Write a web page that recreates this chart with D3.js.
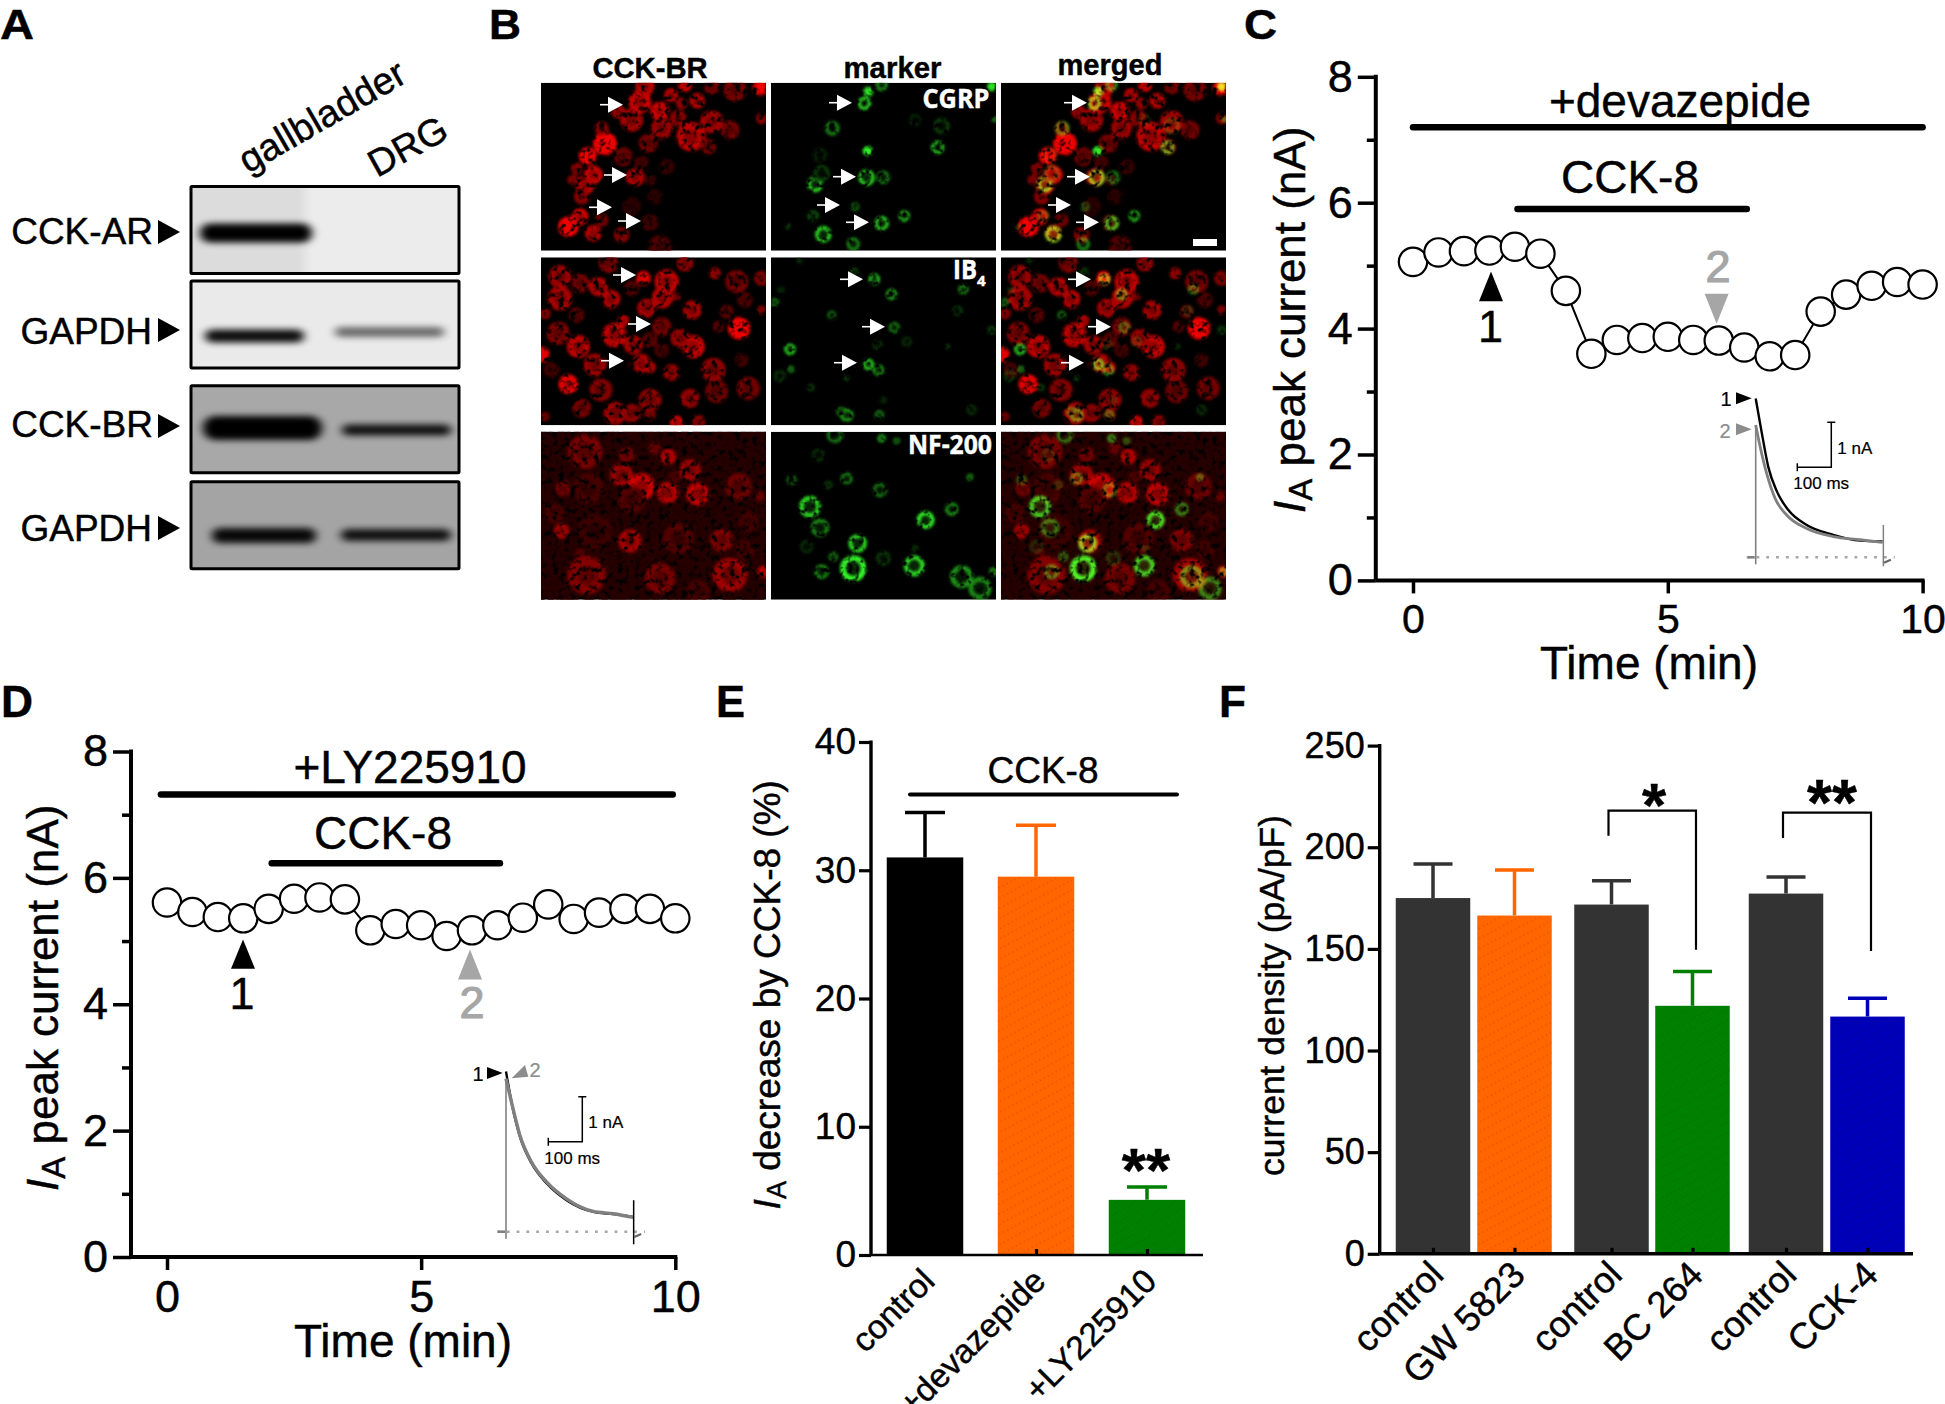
<!DOCTYPE html>
<html><head><meta charset="utf-8">
<script src="https://cdnjs.cloudflare.com/ajax/libs/d3/7.8.5/d3.min.js"></script>
<style>
html,body{margin:0;padding:0;background:#fff;overflow:hidden}
svg{display:block;font-family:"Liberation Sans",Arial,sans-serif}
svg text{stroke:#000;stroke-width:.45px}
</style></head><body><svg id="fig" width="1945" height="1404" viewBox="0 0 1945 1404"></svg>
<script>
// ---------- panel C / D time courses ----------
const timeMin = [0,0.5,1,1.5,2,2.5,3,3.5,4,4.5,5,5.5,6,6.5,7,7.5,8,8.5,9,9.5,10];
const currentC = [5.06,5.21,5.23,5.24,5.30,5.19,4.60,3.60,3.82,3.85,3.87,3.82,3.81,3.70,3.56,3.58,4.27,4.54,4.68,4.74,4.70];
const currentD = [5.61,5.46,5.38,5.36,5.51,5.67,5.69,5.66,5.17,5.27,5.25,5.08,5.17,5.25,5.37,5.58,5.35,5.45,5.51,5.51,5.36];
// inset traces: ms, nA
const insetCTime1 = [0,18,37,62,96,150,228,307,373];
const insetCAmp1  = [3.53,2.76,2.01,1.47,1.05,.72,.50,.37,.35];
const insetCTime2 = [0,13,32,57,91,150,228,307,373];
const insetCAmp2  = [2.94,2.46,1.87,1.31,.94,.64,.46,.39,.33];
const insetDTime1 = [0,17,41,75,120,178,257,316,374];
const insetDAmp1  = [3.56,2.85,2.11,1.52,1.07,.70,.44,.39,.33];
const insetDTime2 = [0,17,41,75,120,178,257,316,374];
const insetDAmp2  = [3.40,2.85,2.14,1.55,1.10,.73,.45,.40,.32];
// ---------- panel E ----------
const eCategories = ["control","+devazepide","+LY225910"];
const eValues = [31.0,29.5,4.3];
const eErrors = [34.5,33.5,5.3];
const eTicks = [0,10,20,30,40];
// ---------- panel F ----------
const fCategories = ["control","GW 5823","control","BC 264","control","CCK-4"];
const fValues = [175,166.4,171.8,122,177.2,116.7];
const fErrors = [191.8,188.8,183.5,138.9,185.3,125.7];
const fTicks = [0,50,100,150,200,250];
// ---------- panel A: band densities (left lane, right lane) ----------
const blotRows = ["CCK-AR","GAPDH","CCK-BR","GAPDH"];
const blotDensity = [[1,0],[.95,.55],[1,.9],[.95,.9]];
const red1 = [[210,310,32,1,1],[158,348,24,1,1],[375,213,25,.9],[487,182,20,.8],[468,290,38,.8],[300,412,24,.75],[175,405,25,.85],[265,350,25,.45],[200,265,18,.6],[315,185,30,.85],[408,165,18,.8],[450,135,18,.9],[330,140,25,.8],[675,145,20,1,1],[530,245,30,.7],[600,150,30,.5],[530,140,20,.5],[290,240,30,.7],[380,265,28,.65],[430,235,22,.6],[520,320,20,.5],[585,270,25,.5],[680,235,15,.6],[340,310,25,.5],[150,435,25,.8],[125,385,15,.6],[115,420,15,.6],[140,470,20,.6],[100,560,28,1,1],[135,530,22,.9],[175,580,22,.8],[260,585,20,.6],[345,548,22,.3],[375,620,30,.35],[320,370,20,.3],[395,380,20,.25],[345,420,15,.3],[290,500,25,.2],[200,540,18,.5],[360,470,20,.2],[440,190,15,.7],[250,215,18,.7]];
const green1 = [[1000,155,15,.9,1],[988,190,20,.95],[1040,135,18,.7],[892,265,22,.55],[998,333,15,.95,1],[1208,322,20,.85],[995,413,25,.85],[1045,412,20,.55],[840,433,24,.9],[960,500,13,.5],[1108,528,17,.85],[1040,550,22,.85],[835,528,17,.4],[865,583,25,.9],[955,612,20,.6],[1220,258,25,.25],[1140,240,18,.18],[1370,140,14,.9,1],[1378,238,8,.8],[855,345,22,.15],[860,400,25,.25],[760,560,8,.4]];
const red2 = [[75,80,30,.65],[135,100,25,.5],[220,40,25,.55],[190,110,25,.75],[228,148,25,.75],[75,145,32,.7],[125,195,20,.4],[290,115,20,.35],[325,85,20,.9,1],[395,95,32,.8],[382,143,28,.75],[450,40,22,.6],[425,140,10,.6],[335,175,25,.7],[472,180,25,.7],[265,212,15,.8],[238,255,32,.8],[380,230,25,.5],[345,270,20,.4],[295,285,25,.7],[130,290,30,.8],[70,250,30,.55],[20,315,22,.95,1],[30,190,15,.6],[475,290,30,.85],[435,265,25,.65],[612,235,30,1,1],[540,70,15,.7],[605,95,30,.5],[680,85,20,.55],[630,150,20,.35],[575,185,18,.4],[550,230,15,.4],[680,180,12,.6],[180,345,30,.65],[320,340,25,.75],[345,352,15,.8],[410,368,22,.65],[535,360,32,.6],[100,403,26,1],[198,420,30,.55],[640,415,30,.5],[545,425,30,.45],[465,445,25,.65],[345,450,30,.6],[140,475,25,.5],[240,490,30,.65],[290,490,25,.6],[345,495,15,.55],[425,517,18,.9],[490,515,18,.6],[30,500,12,.5],[380,300,20,.3],[620,330,18,.3],[290,345,10,.3],[50,360,20,.3]];
const green2 = [[1018,88,17,.95],[1070,133,17,.75],[1285,118,15,.7],[720,158,13,.55],[890,195,13,.55],[1078,233,17,.55],[765,298,17,1],[1000,343,17,1],[1030,360,17,.7],[768,358,10,.7],[735,378,18,.25],[828,413,10,.35],[935,495,20,.7],[918,485,14,.55],[1033,495,14,.6],[1045,450,10,.25],[1268,182,15,.3],[1370,240,12,.35],[1028,285,15,.25],[1115,275,15,.25],[1238,290,7,.5],[1310,480,15,.25],[958,65,12,.35],[738,120,10,.25],[795,30,10,.3],[935,385,8,.4]];
const red3 = [[150,80,45,.5],[400,95,20,.8],[465,135,28,.65],[260,150,30,.65],[320,185,35,.85],[398,203,28,.75],[488,207,30,.8],[290,225,35,.35],[85,190,20,.5],[160,190,40,.3],[610,185,35,.45],[675,215,12,.5],[80,318,20,.7],[285,348,30,.7],[560,345,30,.55],[430,340,40,.35],[630,375,25,.3],[155,450,50,.55],[375,460,40,.5],[585,450,45,.65],[685,440,15,.9],[60,265,25,.3],[180,320,45,.25],[640,290,25,.3],[135,385,12,.4],[360,70,15,.5],[275,90,20,.5],[420,155,15,.35],[490,500,30,.3]];
const green3 = [[825,245,33,.85],[855,308,28,.55],[968,355,28,.9],[955,430,40,1],[1172,285,27,1],[1138,422,32,.9],[1250,252,20,.65],[935,160,18,.6],[1035,195,22,.5],[1305,157,10,.7],[770,165,15,.5],[860,440,22,.6],[895,395,14,.6],[1040,40,12,.85],[900,30,25,.5],[1085,48,10,.6],[850,90,20,.2],[815,365,20,.2],[1045,400,22,.25],[1280,455,35,.6],[1335,490,35,.55],[1375,440,12,.8],[1140,370,10,.3],[880,180,12,.3]];

const svg = d3.select("#fig");
const defs = svg.append("defs");
const FONT = '"Liberation Sans",Arial,sans-serif';

function txt(g,x,y,s,o={}){
  const t=g.append("text").attr("x",x).attr("y",y).text(s)
    .attr("font-size",o.size||40).attr("text-anchor",o.anchor||"middle").attr("fill",o.fill||"#000")
    .style("stroke",o.fill||"#000").style("stroke-width",o.sw==null?.45:o.sw);
  if(o.weight)t.attr("font-weight",o.weight);
  if(o.family)t.attr("font-family",o.family);
  if(o.len)t.attr("textLength",o.len).attr("lengthAdjust","spacingAndGlyphs");
  if(o.rot!=null)t.attr("transform",`rotate(${o.rot},${x},${y})`);
  return t;
}
function tri(g,pts,fill){g.append("polygon").attr("points",pts.map(p=>p.join(",")).join(" ")).attr("fill",fill);}

// panel letters
[["A",0,39,43,34],["B",489,39,43,32],["C",1244,39,43,33],["D",1,717,45,32],["E",716,717,45,29],["F",1219,717,45,27]].forEach(d=>
  txt(svg,d[1],d[2],d[0],{size:d[3],weight:"bold",anchor:"start",len:d[4]}));

// ---------- A ----------
(function(){
  const g=svg.append("g");
  const f=defs.append("filter").attr("id","blotBlur").attr("x","-20%").attr("y","-100%").attr("width","140%").attr("height","300%");
  f.append("feGaussianBlur").attr("stdDeviation","5 3.2");
  const boxY=[186.6,281,385.8,481.8], boxH=87, boxFill=["#ececec","#eaeaea","#a8a8a8","#a4a4a4"];
  const bandY=[[233,0],[336,332],[428,430],[535.6,535]], bandH=[[19,0],[13,10],[24,11],[15,12]];
  const laneX=[[200,312],[205,304],[203,322],[212,316]], lane2X=[[0,0],[335,444],[342,451],[341,451]];
  const labelX=[153,152,153,152], baseY=[244,344,437,541], arrY=[232,330,426,528];
  blotRows.forEach((r,i)=>{
    const cid="blotClip"+i;
    defs.append("clipPath").attr("id",cid).append("rect").attr("x",191).attr("y",boxY[i]).attr("width",268).attr("height",boxH);
    const bx=g.append("g").attr("clip-path",`url(#${cid})`);
    bx.append("rect").attr("x",191).attr("y",boxY[i]).attr("width",268).attr("height",boxH).attr("fill",boxFill[i]);
    if(i===0)bx.append("rect").attr("x",185).attr("y",boxY[i]-5).attr("width",120).attr("height",boxH+10).attr("fill","#dcdcdc").attr("filter","url(#blotBlur)");
    blotDensity[i].forEach((v,j)=>{
      if(!v)return;
      const X=j?lane2X[i]:laneX[i];
      bx.append("rect").attr("x",X[0]).attr("width",X[1]-X[0]).attr("y",bandY[i][j]-bandH[i][j]/2).attr("height",bandH[i][j])
        .attr("rx",bandH[i][j]/2).attr("fill","#000").attr("opacity",v).attr("filter","url(#blotBlur)");
    });
    g.append("rect").attr("x",191).attr("y",boxY[i]).attr("width",268).attr("height",boxH).attr("fill","none").attr("stroke","#000").attr("stroke-width",3).attr("rx",1);
    txt(g,labelX[i],baseY[i],r,{size:37,anchor:"end"});
    tri(g,[[158,arrY[i]-12],[180,arrY[i]],[158,arrY[i]+12]],"#000");
  });
  txt(g,248,174,"gallbladder",{size:38,anchor:"start",rot:-30});
  txt(g,377,178,"DRG",{size:38,anchor:"start",rot:-29});
})();

// ---------- B ----------
(function(){
  const g=svg.append("g");
  const f=defs.append("filter").attr("id","speckle").attr("filterUnits","userSpaceOnUse")
    .attr("x",-30).attr("y",-30).attr("width",290).attr("height",230).attr("color-interpolation-filters","sRGB");
  f.append("feGaussianBlur").attr("in","SourceGraphic").attr("stdDeviation",1.4).attr("result","b");
  f.append("feTurbulence").attr("type","fractalNoise").attr("baseFrequency",.17).attr("numOctaves",2).attr("seed",4).attr("result","n");
  f.append("feColorMatrix").attr("in","n").attr("type","matrix").attr("values","0 0 0 0 0 0 0 0 0 0 0 0 0 0 0 3.6 0 0 0 -.85").attr("result","m");
  f.append("feComposite").attr("in","b").attr("in2","m").attr("operator","in");

  const cols=[541,771,1001], colW=225, rows=[82.7,257.3,431.7], rowH=168;
  const cropTop=[128,22,20];
  const reds=[red1,red2,red3], greens=[green1,green2,green3];
  const rx=d3.scaleLinear().domain([18,693]).range([0,colW]);
  const gx=d3.scaleLinear().domain([708,1383]).range([0,colW]);
  function cells(par,data,sx,sy,col,ringy,under){
    const cg=par.append("g").attr("filter","url(#speckle)");
    if(under)cg.append("rect").attr("x",-20).attr("y",-20).attr("width",colW+40).attr("height",rowH+40).attr("fill",under);
    data.forEach(c=>{
      const b=c[3], r=(c[2]/3)*(ringy?1:1.12), solid=c[4];
      const col1=col(b);
      cg.append("circle").attr("cx",sx(c[0])).attr("cy",sy(c[1])).attr("r",r*(solid?1:.78))
        .attr("fill",solid?col1:col(b*(ringy?.16:.72))).attr("stroke",col1).attr("stroke-width",solid?0:r*(ringy?.42:.5));
    });
    return cg;
  }
  const R=b=>`rgb(${Math.round(240*b)},0,0)`, G=b=>`rgb(${Math.round(50*b)},${Math.round(250*b)},${Math.round(40*b)})`;
  rows.forEach((y0,ri)=>{
    const sy=d3.scaleLinear().domain([cropTop[ri],cropTop[ri]+504]).range([0,rowH]);
    cols.forEach((x0,ci)=>{
      const id=`pc${ri}${ci}`;
      defs.append("clipPath").attr("id",id).append("rect").attr("width",colW).attr("height",rowH);
      const p=g.append("g").attr("transform",`translate(${x0},${y0})`).attr("clip-path",`url(#${id})`).style("isolation","isolate");
      p.append("rect").attr("width",colW).attr("height",rowH).attr("fill","#000");
      if(ci!==1)cells(p,reds[ri],rx,sy,R,false,ri===2?"#260000":null);
      if(ci!==0){const k=cells(p,greens[ri],gx,sy,G,true);k.style("mix-blend-mode","screen");}
    });
  });
  // arrows (tip x per column, tip y shared)
  const arrows=[
    [[623,104.7],[627,175],[612,207.3],[641,221],[852,102.7],[856,176.7],[840,205],[869,222.3],[1087,102.7],[1090,176.7],[1071,205],[1099,222.3]],
    [[636,275],[651,324],[624,360.7],[863,279.3],[885,326.7],[857,362.7],[1091,279.3],[1111,326.7],[1084,362.7]]
  ].flat();
  arrows.forEach(a=>{
    g.append("line").attr("x1",a[0]-23).attr("x2",a[0]-12).attr("y1",a[1]).attr("y2",a[1]).attr("stroke","#fff").attr("stroke-width",1.6);
    tri(g,[[a[0],a[1]],[a[0]-15,a[1]-8],[a[0]-15,a[1]+8]],"#fff");
  });
  g.append("rect").attr("x",1193).attr("y",239).attr("width",24).attr("height",7).attr("fill","#fff");
  const ss='"Open Sans",sans-serif';
  txt(g,650,78,"CCK-BR",{size:29,weight:"bold",len:115});
  txt(g,892.5,78,"marker",{size:29,weight:"bold",len:98});
  txt(g,1110,75,"merged",{size:29,weight:"bold",len:105});
  txt(g,956,108,"CGRP",{size:26,weight:"bold",fill:"#fff",family:ss,len:67});
  txt(g,953,279,"IB",{size:26,weight:"bold",fill:"#fff",family:ss,anchor:"start",len:24});
  txt(g,977,286,"4",{size:15,weight:"bold",fill:"#fff",family:ss,anchor:"start"});
  txt(g,950,454,"NF-200",{size:26,weight:"bold",fill:"#fff",family:ss,len:84});
})();

// ---------- time-course panels ----------
function timePanel(o){
  const g=svg.append("g");
  const x=d3.scaleLinear().domain([0,10]).range(o.xr);
  const y=d3.scaleLinear().domain([0,8]).range(o.yr);
  const yAxis=d3.axisLeft(y).tickValues([0,2,4,6,8]).tickSize(18).tickPadding(5).tickSizeOuter(0);
  const yMinor=d3.axisLeft(y).tickValues([1,3,5,7]).tickSize(9).tickFormat("").tickSizeOuter(0);
  const xAxis=d3.axisBottom(x).tickValues([0,5,10]).tickSize(13).tickPadding(o.xpad).tickSizeOuter(0);
  const ya=g.append("g").attr("transform",`translate(${o.axisX},0)`).call(yAxis);
  const ym=g.append("g").attr("transform",`translate(${o.axisX},0)`).call(yMinor);
  ym.selectAll("text").remove();
  const xa=g.append("g").attr("transform",`translate(0,${o.yr[0]})`).call(xAxis);
  g.append("line").attr("x1",o.axisX).attr("x2",o.xr[1]+2).attr("y1",o.yr[0]).attr("y2",o.yr[0]).attr("stroke","#000").attr("stroke-width",4);
  g.append("line").attr("x1",o.axisX).attr("x2",o.axisX).attr("y1",o.yr[1]-2).attr("y2",o.yr[0]).attr("stroke","#000").attr("stroke-width",4);
  [ya,ym,xa].forEach(a=>{a.select(".domain").remove();a.selectAll("line").attr("stroke","#000").attr("stroke-width",3.5);
    a.selectAll("text").attr("font-size",45).attr("font-family",FONT).attr("fill","#000");});
  xa.selectAll("text").attr("font-size",o.xFont);
  // treatment bars
  o.bars.forEach(b=>{
    g.append("line").attr("x1",x(b.t[0])).attr("x2",x(b.t[1])).attr("y1",y(b.v)).attr("y2",y(b.v))
      .attr("stroke","#000").attr("stroke-width",6.5).attr("stroke-linecap","round");
    txt(g,b.tx,b.ty,b.label,{size:46});
  });
  // series
  const pts=timeMin.map((t,i)=>[t,o.values[i]]);
  g.append("path").attr("d",d3.line().x(d=>x(d[0])).y(d=>y(d[1]))(pts)).attr("fill","none").attr("stroke","#000").attr("stroke-width",2);
  g.selectAll("circle.pt").data(pts).enter().append("circle").attr("class","pt")
    .attr("cx",d=>x(d[0])).attr("cy",d=>y(d[1])).attr("r",14.2).attr("fill","#fff").attr("stroke","#000").attr("stroke-width",2.2);
  // y label
  const t=g.append("text").attr("transform",`translate(${o.ylx},${o.yly}) rotate(-90)`).attr("font-size",44);
  t.append("tspan").attr("font-style","italic").text("I");
  t.append("tspan").attr("font-size",33).attr("dy",7).text("A");
  t.append("tspan").attr("dy",-7).text(" peak current (nA)");
  txt(g,o.tlx,o.tly,"Time (min)",{size:46});
  o.marks.forEach(m=>{
    const c=m.n==="1"?"#000":"#a6a6a6";
    tri(g,[[m.x,m.apex],[m.x-12,m.base],[m.x+12,m.base]],c);
    txt(g,m.lx,m.ly,m.n,{size:45,fill:c,sw:m.n==="1"?.45:1.2});
  });
  return g;
}
const cG=timePanel({axisX:1375.8,xr:[1413,1922.6],yr:[580.4,76.8],xpad:10,xFont:41,values:currentC,ylx:1305,yly:513,tlx:1649,tly:678.6,
  bars:[{t:[0,10],v:7.2,label:"+devazepide",tx:1680,ty:117},{t:[2.05,6.55],v:5.9,label:"CCK-8",tx:1630,ty:193}],
  marks:[{n:"1",x:1491,apex:271.4,base:301.3,lx:1490.5,ly:341.5},{n:"2",x:1716.6,apex:323.7,base:293.8,lx:1718,ly:282}]});
const dG=timePanel({axisX:131,xr:[167,675.3],yr:[1257,751.5],xpad:10,xFont:45,values:currentD,ylx:58,yly:1191,tlx:403,tly:1357,
  bars:[{t:[-.12,9.95],v:7.32,label:"+LY225910",tx:410,ty:783},{t:[2.06,6.55],v:6.23,label:"CCK-8",tx:383,ty:848.5}],
  marks:[{n:"1",x:243,apex:939.5,base:968.7,lx:242,ly:1008.8},{n:"2",x:470,apex:949.6,base:979.6,lx:472,ly:1018}]});

// ---------- insets ----------
function inset(o){
  const g=svg.append("g");
  const x=d3.scaleLinear().domain([0,100]).range([o.x0,o.x0+34]);
  const y=d3.scaleLinear().domain([0,1]).range([o.y0,o.y0-45]);
  const ln=(a,b,col,w)=>g.append("path").attr("d",d3.line().curve(d3.curveMonotoneX).x(d=>x(d[0])).y(d=>y(d[1]))(a.map((t,i)=>[t,b[i]]))).attr("fill","none").attr("stroke",col).attr("stroke-width",w).attr("stroke-linejoin","round");
  g.append("line").attr("x1",o.x0-9).attr("x2",o.x0+139).attr("y1",o.y0).attr("y2",o.y0).attr("stroke","#a6a6a6").attr("stroke-width",2.6).attr("stroke-dasharray","2.8 7");
  ln(o.t1,o.a1,"#000",2.4); ln(o.t2,o.a2,"#808080",o.w2);
  g.append("line").attr("x1",o.x0).attr("x2",o.x0).attr("y1",y(o.a2[0])).attr("y2",o.y0+7).attr("stroke","#808080").attr("stroke-width",1.6);
  g.append("line").attr("x1",x(374)+.5).attr("x2",x(374)+.5).attr("y1",y(o.endTop)).attr("y2",y(o.endBot)).attr("stroke",o.endCol).attr("stroke-width",1.5);
  g.append("path").attr("d",`M${o.x0-8},${o.y0}h7`).attr("stroke","#808080").attr("stroke-width",2.6);
  g.append("path").attr("d",`M${x(374)+1},${y(-.12)}l7,-3`).attr("stroke","#666").attr("stroke-width",2.2);
  // scale bars
  g.append("path").attr("fill","none").attr("stroke","#000").attr("stroke-width",1.5)
    .attr("d",`M${o.sx},${o.sy-4}v8M${o.sx},${o.sy}h34v-45m-4,0h8`);
  txt(g,o.sx+40,o.sy-13.5,"1 nA",{size:17,anchor:"start",sw:.2});
  txt(g,o.sx-4,o.sy+22,"100 ms",{size:17,anchor:"start",sw:.2});
  return g;
}
const iC=inset({x0:1755.7,y0:557.3,t1:insetCTime1,a1:insetCAmp1,t2:insetCTime2,a2:insetCAmp2,w2:2.8,sx:1797.3,sy:467.3,endTop:.72,endBot:-.2,endCol:"#808080"});
txt(iC,1726,406,"1",{size:20,sw:.2});
tri(iC,[[1736,392.3],[1751.7,398.3],[1736,404.3]],"#000");
txt(iC,1725,438,"2",{size:20,fill:"#8c8c8c",sw:.2});
tri(iC,[[1736,423.3],[1751.7,429.3],[1736,435.3]],"#8c8c8c");
const iD=inset({x0:506,y0:1231.7,t1:insetDTime1,a1:insetDAmp1,t2:insetDTime2,a2:insetDAmp2,w2:3.4,sx:548.3,sy:1141.7,endTop:.7,endBot:-.28,endCol:"#000"});
txt(iD,478,1080.7,"1",{size:20,sw:.2});
tri(iD,[[487,1067],[502.7,1073],[487,1079]],"#000");
tri(iD,[[511.7,1078.3],[528.3,1076.7],[525,1065]],"#8c8c8c");
txt(iD,535,1076.7,"2",{size:20,fill:"#8c8c8c",sw:.2});

// ---------- hatch patterns ----------
function hatch(id,base,dot){
  const p=defs.append("pattern").attr("id",id).attr("patternUnits","userSpaceOnUse").attr("width",9).attr("height",9).attr("patternTransform","rotate(-28)");
  p.append("rect").attr("width",9).attr("height",9).attr("fill",base);
  p.append("circle").attr("cx",2).attr("cy",2).attr("r",.55).attr("fill",dot);
  p.append("circle").attr("cx",6.5).attr("cy",2).attr("r",.55).attr("fill",dot);
}
hatch("hOrange","#ff6600","#c83c00");hatch("hBlue","#0000b8","#00006a");hatch("hGreen","#008000","#006000");

// ---------- bar panels ----------
function barPanel(o){
  const g=svg.append("g");
  const idx=d3.range(o.cats.length);
  const x=d3.scaleOrdinal().domain(idx).range(o.centers);
  const y=d3.scaleLinear().domain(o.dom).range(o.yr);
  g.selectAll("rect.bar").data(idx).enter().append("rect").attr("class","bar")
    .attr("x",i=>x(i)-o.bw/2).attr("width",o.bw).attr("y",i=>y(o.vals[i])).attr("height",i=>y(0)-y(o.vals[i])).attr("fill",i=>o.fills[i]);
  g.selectAll("path.err").data(idx).enter().append("path").attr("class","err").attr("fill","none")
    .attr("stroke",i=>o.errCol[i]).attr("stroke-width",3.5)
    .attr("d",i=>`M${x(i)},${y(o.vals[i])}V${y(o.errs[i])}M${x(i)-o.cap},${y(o.errs[i])}H${x(i)+o.cap}`);
  const ya=g.append("g").attr("transform",`translate(${o.axisX},0)`).call(d3.axisLeft(y).tickValues(o.ticks).tickSize(12).tickPadding(3).tickSizeOuter(0));
  const xa=g.append("g").attr("transform",`translate(0,${y(0)})`).call(d3.axisBottom(x).tickSize(-6).tickFormat(i=>o.cats[i]).tickSizeOuter(0));
  ya.select(".domain").remove();xa.select(".domain").remove();
  ya.selectAll("line").attr("stroke","#000").attr("stroke-width",3.2);
  xa.selectAll("line").attr("stroke","#000").attr("stroke-width",3.2);
  ya.selectAll("text").attr("font-size",o.tickFont).attr("font-family",FONT).attr("fill","#000");
  xa.selectAll("text").attr("font-size",o.catFont).attr("font-family",FONT).attr("fill","#000")
    .attr("text-anchor","end").attr("y",0).attr("dy",0)
    .attr("transform",`translate(${o.catDx},${o.catDy}) rotate(-45)`);
  g.append("line").attr("x1",o.axisX).attr("x2",o.xEnd).attr("y1",y(0)).attr("y2",y(0)).attr("stroke","#000").attr("stroke-width",o.baseW);
  g.append("line").attr("x1",o.axisX).attr("x2",o.axisX).attr("y1",y(o.dom[1])-1.5).attr("y2",y(0)).attr("stroke","#000").attr("stroke-width",3.4);
  const t=g.append("text").attr("transform",`translate(${o.ylx},${o.yly}) rotate(-90)`).attr("font-size",o.ylFont);
  o.yl(t);
  return {g,x,y};
}
const E=barPanel({cats:eCategories,centers:[925,1036,1147],dom:[0,40],yr:[1255,742],bw:76.5,vals:eValues,errs:eErrors,cap:20,
  fills:["#000","url(#hOrange)","url(#hGreen)"],errCol:["#000","#ff6600","#008000"],ticks:eTicks,axisX:871,tickFont:37,catFont:33.5,catDx:11,catDy:28,xEnd:1203,baseW:2.6,ylx:780,yly:1209.4,ylFont:37,
  yl:t=>{t.append("tspan").attr("font-style","italic").text("I");t.append("tspan").attr("font-size",27).attr("dy",6).text("A");t.append("tspan").attr("dy",-6).text(" decrease by CCK-8 (%)");}});
E.g.append("line").attr("x1",910).attr("x2",1177).attr("y1",E.y(35.9)).attr("y2",E.y(35.9)).attr("stroke","#000").attr("stroke-width",4).attr("stroke-linecap","round");
txt(E.g,1043,783.4,"CCK-8",{size:37});
txt(E.g,1146,1191,"**",{size:62,weight:"bold"});

const F=barPanel({cats:fCategories,centers:[1433,1514.5,1611.5,1692.5,1786,1867.5],dom:[0,250],yr:[1253.8,745.6],bw:74.5,vals:fValues,errs:fErrors,cap:19.5,
  fills:["#333333","url(#hOrange)","#333333","url(#hGreen)","#333333","url(#hBlue)"],errCol:["#333","#ff6600","#333","#008000","#333","#0000b8"],ticks:fTicks,axisX:1379.7,tickFont:36,catFont:36.5,catDx:12,catDy:23,xEnd:1913,baseW:3.6,ylx:1283.6,yly:1176,ylFont:35.5,
  yl:t=>t.text("current density (pA/pF)")});
function bracket(g,x,y,i,j,top,l,r){
  g.append("path").attr("fill","none").attr("stroke","#000").attr("stroke-width",2.2)
    .attr("d",`M${x(i)-3},${y(l)}V${y(top)}H${x(j)+3.5}V${y(r)}`);
}
bracket(F.g,F.x,F.y,2,3,218,205.6,149.6);
bracket(F.g,F.x,F.y,4,5,217,204.6,149);
txt(F.g,1654,826,"*",{size:62,weight:"bold"});
txt(F.g,1832,825,"**",{size:64,weight:"bold"});
</script></body></html>
